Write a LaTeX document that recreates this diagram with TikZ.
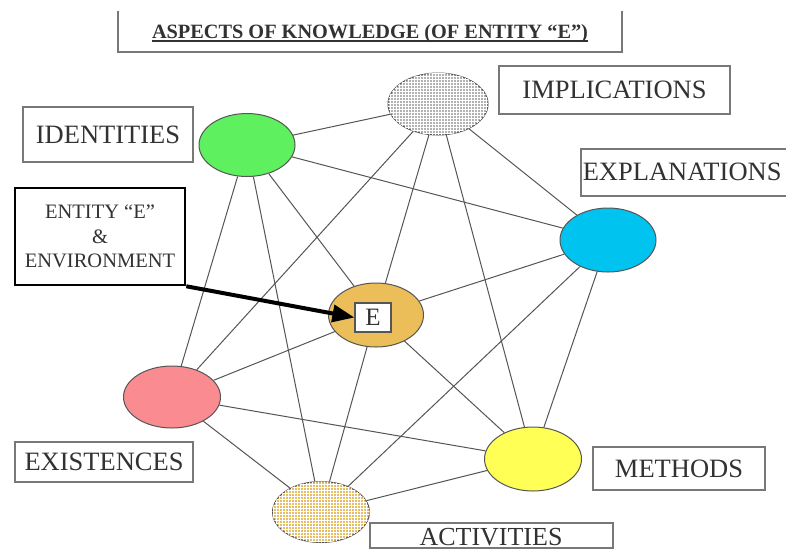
\documentclass[tikz,border=0pt]{standalone}
\usepackage{fontspec}
\setmainfont{Liberation Serif}
\usetikzlibrary{shapes.geometric,arrows.meta,patterns}
\definecolor{inkgray}{RGB}{50,50,50}
\definecolor{framegray}{RGB}{120,120,120}
\definecolor{edgegray}{RGB}{85,85,85}
\definecolor{rimgray}{RGB}{85,85,85}
\definecolor{idgreen}{RGB}{95,240,95}
\definecolor{expcyan}{RGB}{0,195,240}
\definecolor{ecore}{RGB}{235,190,90}
\definecolor{existpink}{RGB}{250,140,145}
\definecolor{methyellow}{RGB}{255,255,85}
\definecolor{actochre}{RGB}{232,190,100}
\definecolor{impgray}{RGB}{178,178,178}
\pgfdeclarelayer{background}
\pgfsetlayers{background,main}
\begin{document}
\begin{tikzpicture}[x=1pt,y=-1pt,
  blob/.style={ellipse, draw=rimgray, line width=1pt, inner sep=0pt},
  hatched/.style={postaction={pattern=grid, pattern color=white}},
  labelbox/.style={draw=framegray, line width=1.5pt, fill=white, inner sep=0pt,
    text=inkgray, font=\fontsize{26.5}{30}\selectfont},
  link/.style={draw=edgegray, line width=1pt},
]
\useasboundingbox (0,0) rectangle (786,550);

% heading frame (open at the top) and underlined heading
\draw[framegray, line width=1.5pt] (118,11) -- (118,52) -- (622,52) -- (622,11);
\node[inner sep=0pt, anchor=base, text=inkgray,
  font=\bfseries\fontsize{20.3}{24}\selectfont] (title) at (370,38)
  {ASPECTS OF KNOWLEDGE (OF ENTITY “E”)};
\draw[inkgray, line width=1.4pt] ([yshift=-3pt]title.base west) -- ([yshift=-3pt]title.base east);

% the seven aspects
\node[blob, fill=impgray, hatched, minimum width=100, minimum height=62] (implications) at (438,104) {};
\node[blob, fill=idgreen, minimum width=96, minimum height=63] (identities) at (247,145) {};
\node[blob, fill=expcyan, minimum width=96, minimum height=64] (explanations) at (608,240) {};
\node[blob, fill=ecore, minimum width=95, minimum height=64] (entity) at (376,315) {};
\node[blob, fill=existpink, minimum width=97, minimum height=62] (existences) at (172,397) {};
\node[blob, fill=methyellow, minimum width=97, minimum height=64] (methods) at (533,459) {};
\node[blob, fill=actochre, hatched, minimum width=97, minimum height=61] (activities) at (321,512) {};

% white sheet and links between aspects, behind everything else
\begin{pgfonlayer}{background}
\fill[white] (0,0) rectangle (786,550);
\foreach \a/\b in {identities/implications, identities/explanations, identities/existences,
  identities/activities, identities/entity, implications/existences, implications/entity,
  implications/methods, implications/explanations, explanations/entity, explanations/activities,
  explanations/methods, entity/existences, entity/activities, entity/methods,
  existences/methods, existences/activities, activities/methods}
  \draw[link] (\a) -- (\b);
\end{pgfonlayer}

% labels
\node[labelbox, minimum width=231, minimum height=48] (implabel) at (614.5,90) {IMPLICATIONS};
\node[labelbox, minimum width=170, minimum height=55] (idlabel) at (108,134.5) {IDENTITIES};
\node[labelbox, anchor=north west, minimum width=225, minimum height=47, text width=221,
  align=left, inner xsep=1pt] (explabel) at (580,148) {EXPLANATIONS};
\node[labelbox, minimum width=178, minimum height=40] (exilabel) at (104,462) {EXISTENCES};
\node[labelbox, minimum width=172, minimum height=43] (metlabel) at (679,468.5) {METHODS};
\node[labelbox, minimum width=243, minimum height=25] (actbox) at (491.5,535.5) {};
\node[inner sep=0pt, anchor=base, text=inkgray, font=\fontsize{26}{30}\selectfont]
  (actlabel) at (491,545) {ACTIVITIES};

% the entity with its environment
\node[draw=black, line width=2.5pt, fill=white, minimum width=170, minimum height=97,
  inner sep=0pt, align=center, text=inkgray, font=\fontsize{20.5}{24.5}\selectfont]
  (envbox) at (100,236.5) {ENTITY “E”\\\&\\ENVIRONMENT};
\node[draw=rimgray, line width=1.2pt, fill=white, minimum width=36, minimum height=29,
  inner sep=0pt, text=inkgray, font=\fontsize{25}{25}\selectfont] (ebox) at (373,317.5) {E};
\draw[black, line width=4pt, -{Triangle[length=22pt,width=17pt]}] (envbox.south east) -- (ebox.west);
\end{tikzpicture}
\end{document}
